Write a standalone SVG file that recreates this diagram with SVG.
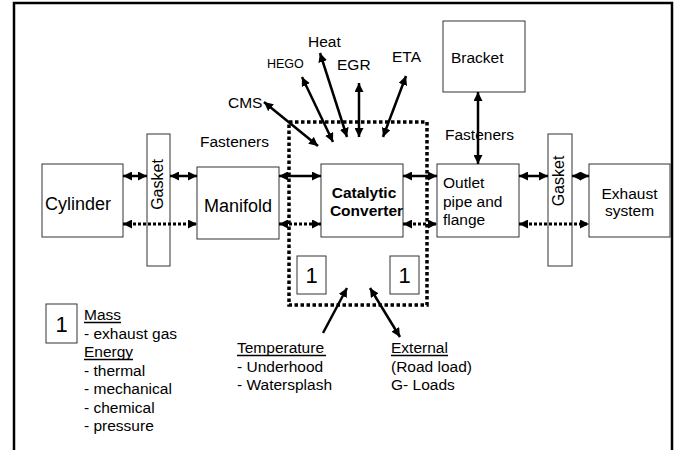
<svg xmlns="http://www.w3.org/2000/svg" width="680" height="450" viewBox="0 0 680 450">
<style>
  text { font-family: "Liberation Sans", Arial, sans-serif; font-size: 15.5px; fill: #000; }
  .big { font-size: 18px; }
  .one { font-size: 22px; }
  .small { font-size: 12.5px; }
  .bold { font-weight: bold; }
  .box { fill: #fff; stroke: #333; stroke-width: 1; }
  .frame { fill: none; stroke: #000; stroke-width: 2.5; }
  .boundary { fill: none; stroke: #000; stroke-width: 3.5; stroke-dasharray: 3.5 2.5; }
  .solid { stroke: #000; stroke-width: 2.5; fill: none; }
  .dotted { stroke: #000; stroke-width: 3; stroke-dasharray: 3 2; fill: none; }
  .ul { stroke: #000; stroke-width: 1.5; }
</style>
<defs>
  <marker id="ah" viewBox="0 0 10 10" refX="10" refY="5" markerUnits="userSpaceOnUse" markerWidth="9" markerHeight="9" orient="auto-start-reverse">
    <path d="M0,0 L10,5 L0,10 z" fill="#000"/>
  </marker>
</defs>
<rect width="680" height="450" fill="#fff"/>
<path class="frame" d="M14,450 V3 H672 V450"/>

<g id="boundary"><rect class="boundary" x="289" y="122" width="138" height="183"/></g>

<g id="cylinder"><rect class="box" x="42" y="164" width="81" height="73"/><text class="big" x="45" y="210">Cylinder</text></g>
<g id="gasket1"><rect class="box" x="147" y="134" width="23" height="132"/><text transform="translate(163,184.5) rotate(-90)" text-anchor="middle" style="font-size:16px">Gasket</text></g>
<g id="manifold"><rect class="box" x="197" y="167" width="82" height="72"/><text class="big" x="204" y="212">Manifold</text></g>
<g id="catalytic"><rect class="box" x="321" y="164" width="82" height="73"/><text class="bold" x="364" y="198" text-anchor="middle">Catalytic</text><text class="bold" x="366.5" y="216" text-anchor="middle">Converter</text></g>
<g id="outlet"><rect class="box" x="437" y="164" width="82" height="73"/><text x="443" y="188">Outlet</text><text x="443" y="207">pipe and</text><text x="443" y="225">flange</text></g>
<g id="gasket2"><rect class="box" x="548" y="134" width="24" height="132"/><text transform="translate(564,181) rotate(-90)" text-anchor="middle" style="font-size:16px">Gasket</text></g>
<g id="exhaust"><rect class="box" x="589" y="164" width="81" height="73"/><text x="629.5" y="199" text-anchor="middle">Exhaust</text><text x="629.5" y="216" text-anchor="middle">system</text></g>
<g id="bracket"><rect class="box" x="443" y="21" width="82" height="71"/><text x="451" y="63">Bracket</text></g>
<g id="mass1-left"><rect class="box" x="297" y="256" width="29" height="38"/><text class="one" x="311.5" y="283" text-anchor="middle">1</text></g>
<g id="mass1-right"><rect class="box" x="390" y="256" width="29" height="38"/><text class="one" x="404.5" y="283" text-anchor="middle">1</text></g>

<g id="labels">
  <text x="308" y="47">Heat</text>
  <text class="small" x="267" y="68">HEGO</text>
  <text x="337" y="70">EGR</text>
  <text x="392" y="62">ETA</text>
  <text x="228" y="108">CMS</text>
  <text x="200" y="147">Fasteners</text>
  <text x="445" y="140">Fasteners</text>
</g>

<g id="temperature">
  <text x="237" y="353">Temperature</text><line class="ul" x1="237" y1="355.5" x2="326" y2="355.5"/>
  <text x="237" y="372">- Underhood</text>
  <text x="237" y="390">- Watersplash</text>
</g>
<g id="external">
  <text x="391" y="353">External</text><line class="ul" x1="391" y1="355.5" x2="448" y2="355.5"/>
  <text x="391" y="372">(Road load)</text>
  <text x="391" y="390">G- Loads</text>
</g>

<g id="legend">
  <rect class="box" x="46" y="304" width="31" height="39"/><text class="one" x="61.5" y="332" text-anchor="middle">1</text>
  <text x="84" y="320">Mass</text><line class="ul" x1="84" y1="322.5" x2="121" y2="322.5"/>
  <text x="84" y="338.5">- exhaust gas</text>
  <text x="84" y="357">Energy</text><line class="ul" x1="84" y1="359.5" x2="133" y2="359.5"/>
  <text x="84" y="375.5">- thermal</text>
  <text x="84" y="394">- mechanical</text>
  <text x="84" y="412.5">- chemical</text>
  <text x="84" y="431">- pressure</text>
</g>

<g id="connectors">
  <line class="solid" x1="123" y1="176" x2="147" y2="176" marker-start="url(#ah)" marker-end="url(#ah)"/>
  <line class="solid" x1="170" y1="176" x2="197" y2="176" marker-start="url(#ah)" marker-end="url(#ah)"/>
  <line class="solid" x1="279" y1="176" x2="321" y2="176" marker-start="url(#ah)" marker-end="url(#ah)"/>
  <line class="solid" x1="403" y1="176" x2="437" y2="176" marker-start="url(#ah)" marker-end="url(#ah)"/>
  <line class="solid" x1="519" y1="176" x2="548" y2="176" marker-start="url(#ah)" marker-end="url(#ah)"/>
  <line class="solid" x1="572" y1="176" x2="589" y2="176" marker-start="url(#ah)" marker-end="url(#ah)"/>
  <line class="dotted" x1="123" y1="224" x2="197" y2="224" marker-start="url(#ah)" marker-end="url(#ah)"/>
  <line class="dotted" x1="279" y1="224" x2="321" y2="224" marker-start="url(#ah)" marker-end="url(#ah)"/>
  <line class="dotted" x1="403" y1="224" x2="437" y2="224" marker-start="url(#ah)" marker-end="url(#ah)"/>
  <line class="dotted" x1="519" y1="224" x2="589" y2="224" marker-start="url(#ah)" marker-end="url(#ah)"/>
  <line class="solid" x1="478" y1="92" x2="478" y2="164" marker-start="url(#ah)" marker-end="url(#ah)"/>
  <line class="solid" x1="264" y1="102" x2="318" y2="146" marker-start="url(#ah)" marker-end="url(#ah)"/>
  <line class="solid" x1="302" y1="77" x2="333" y2="142" marker-start="url(#ah)" marker-end="url(#ah)"/>
  <line class="solid" x1="320" y1="53" x2="347" y2="137" marker-start="url(#ah)" marker-end="url(#ah)"/>
  <line class="solid" x1="359" y1="83" x2="359" y2="137" marker-start="url(#ah)" marker-end="url(#ah)"/>
  <line class="solid" x1="406" y1="76" x2="383" y2="137" marker-start="url(#ah)" marker-end="url(#ah)"/>
  <line class="solid" x1="323" y1="333" x2="347" y2="288" marker-end="url(#ah)"/>
  <line class="solid" x1="370" y1="288" x2="400" y2="337" marker-start="url(#ah)" marker-end="url(#ah)"/>
</g>
</svg>
